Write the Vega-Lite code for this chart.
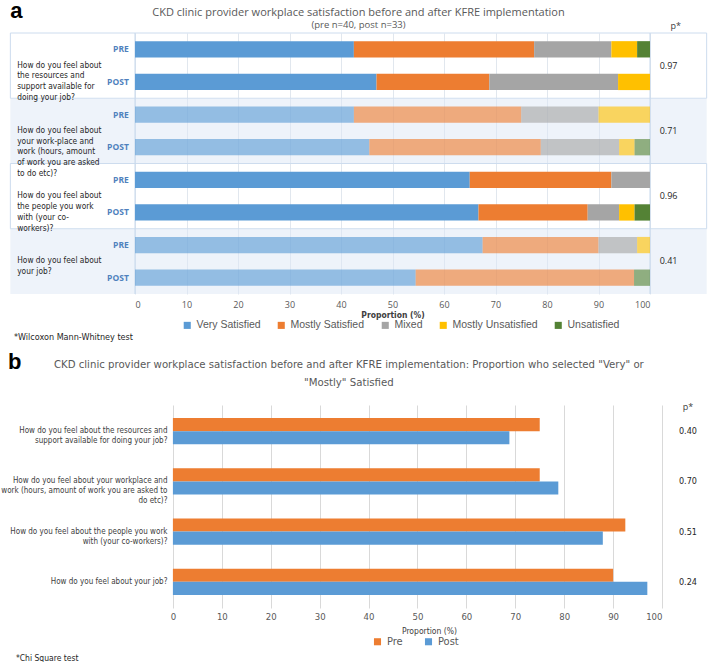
{
  "$schema": "https://vega.github.io/schema/vega-lite/v6.json",
  "padding": {"left": 0, "top": 0, "right": 0, "bottom": 0},
  "background": "white",
  "config": {"view": {"stroke": null}, "font": "Open Sans"},
  "datasets": {
    "satisfaction": [
      {"q": "Q1", "period": "PRE", "cat": "Very Satisfied", "v": 42.5},
      {"q": "Q1", "period": "PRE", "cat": "Mostly Satisfied", "v": 35},
      {"q": "Q1", "period": "PRE", "cat": "Mixed", "v": 15},
      {"q": "Q1", "period": "PRE", "cat": "Mostly Unsatisfied", "v": 5},
      {"q": "Q1", "period": "PRE", "cat": "Unsatisfied", "v": 2.5},
      {"q": "Q1", "period": "POST", "cat": "Very Satisfied", "v": 46.9},
      {"q": "Q1", "period": "POST", "cat": "Mostly Satisfied", "v": 21.9},
      {"q": "Q1", "period": "POST", "cat": "Mixed", "v": 25},
      {"q": "Q1", "period": "POST", "cat": "Mostly Unsatisfied", "v": 6.2},
      {"q": "Q2", "period": "PRE", "cat": "Very Satisfied", "v": 42.5},
      {"q": "Q2", "period": "PRE", "cat": "Mostly Satisfied", "v": 32.5},
      {"q": "Q2", "period": "PRE", "cat": "Mixed", "v": 15},
      {"q": "Q2", "period": "PRE", "cat": "Mostly Unsatisfied", "v": 10},
      {"q": "Q2", "period": "POST", "cat": "Very Satisfied", "v": 45.5},
      {"q": "Q2", "period": "POST", "cat": "Mostly Satisfied", "v": 33.3},
      {"q": "Q2", "period": "POST", "cat": "Mixed", "v": 15.2},
      {"q": "Q2", "period": "POST", "cat": "Mostly Unsatisfied", "v": 3},
      {"q": "Q2", "period": "POST", "cat": "Unsatisfied", "v": 3},
      {"q": "Q3", "period": "PRE", "cat": "Very Satisfied", "v": 65},
      {"q": "Q3", "period": "PRE", "cat": "Mostly Satisfied", "v": 27.5},
      {"q": "Q3", "period": "PRE", "cat": "Mixed", "v": 7.5},
      {"q": "Q3", "period": "POST", "cat": "Very Satisfied", "v": 66.7},
      {"q": "Q3", "period": "POST", "cat": "Mostly Satisfied", "v": 21.2},
      {"q": "Q3", "period": "POST", "cat": "Mixed", "v": 6.1},
      {"q": "Q3", "period": "POST", "cat": "Mostly Unsatisfied", "v": 3},
      {"q": "Q3", "period": "POST", "cat": "Unsatisfied", "v": 3},
      {"q": "Q4", "period": "PRE", "cat": "Very Satisfied", "v": 67.5},
      {"q": "Q4", "period": "PRE", "cat": "Mostly Satisfied", "v": 22.5},
      {"q": "Q4", "period": "PRE", "cat": "Mixed", "v": 7.5},
      {"q": "Q4", "period": "PRE", "cat": "Mostly Unsatisfied", "v": 2.5},
      {"q": "Q4", "period": "POST", "cat": "Very Satisfied", "v": 54.5},
      {"q": "Q4", "period": "POST", "cat": "Mostly Satisfied", "v": 42.4},
      {"q": "Q4", "period": "POST", "cat": "Unsatisfied", "v": 3.1}
    ],
    "questionsA": [
      {"q": "Q1", "text": "How do you feel about\nthe resources and\nsupport available for\ndoing your job?", "p": "0.97"},
      {"q": "Q2", "text": "How do you feel about\nyour work-place and\nwork (hours, amount\nof work you are asked\nto do etc)?", "p": "0.71"},
      {"q": "Q3", "text": "How do you feel about\nthe people you work\nwith (your co-\nworkers)?", "p": "0.96"},
      {"q": "Q4", "text": "How do you feel about\nyour job?", "p": "0.41"}
    ],
    "proportion": [
      {"question": "How do you feel about the resources and\nsupport available for doing your job?", "period": "Pre", "v": 75},
      {"question": "How do you feel about the resources and\nsupport available for doing your job?", "period": "Post", "v": 68.8},
      {"question": "How do you feel about your workplace and\nwork (hours, amount of work you are asked to\ndo etc)?", "period": "Pre", "v": 75},
      {"question": "How do you feel about your workplace and\nwork (hours, amount of work you are asked to\ndo etc)?", "period": "Post", "v": 78.8},
      {"question": "How do you feel about the people you work\nwith (your co-workers)?", "period": "Pre", "v": 92.5},
      {"question": "How do you feel about the people you work\nwith (your co-workers)?", "period": "Post", "v": 87.9},
      {"question": "How do you feel about your job?", "period": "Pre", "v": 90},
      {"question": "How do you feel about your job?", "period": "Post", "v": 97}
    ],
    "questionsB": [
      {"question": "How do you feel about the resources and\nsupport available for doing your job?", "p": "0.40"},
      {"question": "How do you feel about your workplace and\nwork (hours, amount of work you are asked to\ndo etc)?", "p": "0.70"},
      {"question": "How do you feel about the people you work\nwith (your co-workers)?", "p": "0.51"},
      {"question": "How do you feel about your job?", "p": "0.24"}
    ]
  },
  "spacing": 9,
  "resolve": {
    "scale": {"x": "independent", "y": "independent", "color": "independent", "yOffset": "independent"},
    "axis": {"x": "independent", "y": "independent"},
    "legend": {"color": "independent"}
  },
  "vconcat": [
    {
      "width": 515,
      "height": 261,
      "title": {
        "text": "CKD clinic provider workplace satisfaction before and after KFRE implementation",
        "subtitle": "(pre n=40, post n=33)",
        "anchor": "middle",
        "frame": "bounds",
        "font": "Open Sans",
        "fontSize": 11,
        "fontWeight": "normal",
        "color": "#595959",
        "subtitleFont": "Open Sans",
        "subtitleFontSize": 9.5,
        "subtitleColor": "#595959",
        "subtitlePadding": 2,
        "offset": -29
      },
      "resolve": {"scale": {"y": "independent"}, "axis": {"y": "independent"}},
      "layer": [
        {
          "data": {"name": "questionsA"},
          "mark": {"type": "rect", "strokeWidth": 1, "fillOpacity": 0.5},
          "encoding": {
            "x": {"datum": -24.2, "type": "quantitative"},
            "x2": {"datum": 111},
            "y": {
              "field": "text", "type": "nominal", "sort": null,
              "scale": {"type": "band", "paddingInner": 0, "paddingOuter": 0},
              "axis": {
                "title": null, "ticks": false, "domain": false, "grid": false, "zindex": 2,
                "labelExpr": "split(datum.label, '\\n')",
                "labelAlign": "left", "labelPadding": 118.3, "labelLimit": 200,
                "labelFontSize": 8.3, "labelLineHeight": 10.8, "labelColor": "#262626",
                "labelFont": "Liberation Sans Narrow, DejaVu Sans Condensed, Roboto, sans-serif"
              }
            },
            "fill": {"condition": {"test": "datum.q === 'Q2' || datum.q === 'Q4'", "value": "#dde8f5"}, "value": "transparent"},
            "stroke": {"condition": {"test": "datum.q === 'Q1' || datum.q === 'Q3'", "value": "#cddcee"}, "value": "transparent"}
          }
        },
        {
          "data": {"values": [{}]},
          "mark": {"type": "rule", "color": "#c6d8ec", "strokeWidth": 1},
          "encoding": {"x": {"datum": 0, "type": "quantitative"}}
        },
        {
          "data": {"values": [{}]},
          "mark": {"type": "rule", "color": "#c6d8ec", "strokeWidth": 1},
          "encoding": {"x": {"datum": 100, "type": "quantitative"}}
        },
        {
          "data": {"name": "satisfaction"},
          "transform": [
            {"calculate": "datum.q + ' ' + datum.period", "as": "row"},
            {"calculate": "indexof(['Very Satisfied','Mostly Satisfied','Mixed','Mostly Unsatisfied','Unsatisfied'], datum.cat)", "as": "k"}
          ],
          "mark": {"type": "bar"},
          "encoding": {
            "x": {
              "field": "v", "type": "quantitative", "stack": "zero",
              "scale": {"domain": [0, 100], "nice": false},
              "axis": {
                "values": [0, 10, 20, 30, 40, 50, 60, 70, 80, 90, 100],
                "grid": true, "gridColor": "#e1e7ee", "ticks": false, "domain": false,
                "labelColor": "#595959", "labelFontSize": 9, "labelPadding": 6,
                "title": "Proportion (%)", "titleFontSize": 8.5, "titleFontWeight": "bold",
                "titleColor": "#404040", "titlePadding": 1, "titleFont": "Liberation Sans Narrow, DejaVu Sans Condensed, Roboto, sans-serif"
              }
            },
            "y": {
              "field": "row", "type": "nominal", "axis": null,
              "scale": {"type": "band", "domain": ["Q1 PRE", "Q1 POST", "Q2 PRE", "Q2 POST", "Q3 PRE", "Q3 POST", "Q4 PRE", "Q4 POST"], "paddingInner": 0.5, "paddingOuter": 0.25}
            },
            "color": {
              "field": "cat", "type": "nominal",
              "scale": {
                "domain": ["Very Satisfied", "Mostly Satisfied", "Mixed", "Mostly Unsatisfied", "Unsatisfied"],
                "range": ["#5b9bd5", "#ed7d31", "#a5a5a5", "#ffc000", "#548235"]
              },
              "legend": {
                "title": null, "orient": "none", "legendX": 47, "legendY": 287,
                "direction": "horizontal", "symbolType": "square", "symbolSize": 50,
                "labelFont": "Liberation Sans", "labelFontSize": 10.5, "labelColor": "#595959", "columnPadding": 15
              }
            },
            "order": {"field": "k", "type": "quantitative"},
            "opacity": {"condition": {"test": "datum.q === 'Q2' || datum.q === 'Q4'", "value": 0.62}, "value": 1}
          }
        },
        {
          "data": {"name": "satisfaction"},
          "transform": [
            {"filter": "datum.cat === 'Very Satisfied'"},
            {"calculate": "datum.q + ' ' + datum.period", "as": "row"}
          ],
          "mark": {"type": "text", "align": "right", "baseline": "middle", "fontSize": 8.5, "fontWeight": "bold", "color": "#4f81bd"},
          "encoding": {
            "x": {"datum": -1.2, "type": "quantitative"},
            "y": {
              "field": "row", "type": "nominal", "axis": null,
              "scale": {"type": "band", "domain": ["Q1 PRE", "Q1 POST", "Q2 PRE", "Q2 POST", "Q3 PRE", "Q3 POST", "Q4 PRE", "Q4 POST"], "paddingInner": 0.5, "paddingOuter": 0.25}
            },
            "text": {"field": "period"}
          }
        },
        {
          "data": {"name": "questionsA"},
          "mark": {"type": "text", "align": "center", "baseline": "middle", "fontSize": 9, "color": "#262626"},
          "encoding": {
            "x": {"datum": 103.6, "type": "quantitative"},
            "y": {"field": "text", "type": "nominal", "sort": null, "axis": null, "scale": {"type": "band", "paddingInner": 0, "paddingOuter": 0}},
            "text": {"field": "p"}
          }
        },
        {
          "data": {"values": [{}]},
          "mark": {"type": "text", "text": "p*", "align": "center", "baseline": "middle", "fontSize": 9, "color": "#404040", "dy": -23.6},
          "encoding": {
            "x": {"datum": 105, "type": "quantitative"},
            "y": {"datum": "Q1 PRE", "type": "nominal", "axis": null, "scale": {"type": "band", "domain": ["Q1 PRE", "Q1 POST", "Q2 PRE", "Q2 POST", "Q3 PRE", "Q3 POST", "Q4 PRE", "Q4 POST"], "paddingInner": 0.5, "paddingOuter": 0.25}}
          }
        },
        {
          "data": {"values": [{}]},
          "mark": {"type": "text", "text": "a", "align": "left", "baseline": "alphabetic", "fontSize": 22, "fontWeight": "bold", "font": "Liberation Sans", "color": "#000000", "dy": -31},
          "encoding": {
            "x": {"datum": -24.2, "type": "quantitative"},
            "y": {"datum": "Q1 PRE", "type": "nominal", "axis": null, "scale": {"type": "band", "domain": ["Q1 PRE", "Q1 POST", "Q2 PRE", "Q2 POST", "Q3 PRE", "Q3 POST", "Q4 PRE", "Q4 POST"], "paddingInner": 0.5, "paddingOuter": 0.25}}
          }
        },
        {
          "data": {"values": [{}]},
          "mark": {"type": "text", "text": "*Wilcoxon Mann-Whitney test", "align": "left", "baseline": "middle", "fontSize": 9, "color": "#262626", "dy": 59, "font": "Liberation Sans Narrow, DejaVu Sans Condensed, Roboto, sans-serif"},
          "encoding": {
            "x": {"datum": -23.5, "type": "quantitative"},
            "y": {"datum": "Q4 POST", "type": "nominal", "axis": null, "scale": {"type": "band", "domain": ["Q1 PRE", "Q1 POST", "Q2 PRE", "Q2 POST", "Q3 PRE", "Q3 POST", "Q4 PRE", "Q4 POST"], "paddingInner": 0.5, "paddingOuter": 0.25}}
          }
        }
      ]
    },
    {
      "width": 527,
      "height": 203,
      "title": {
        "text": ["CKD clinic provider workplace satisfaction before and after KFRE implementation: Proportion who selected \"Very\" or", "\"Mostly\" Satisfied"],
        "anchor": "middle",
        "frame": "bounds",
        "font": "Liberation Sans Narrow, DejaVu Sans Condensed, Roboto, sans-serif",
        "fontSize": 11.3,
        "fontWeight": "normal",
        "color": "#595959",
        "lineHeight": 18,
        "offset": -37.6
      },
      "layer": [
        {
          "data": {"name": "proportion"},
          "mark": {"type": "bar"},
          "encoding": {
            "x": {
              "field": "v", "type": "quantitative", "stack": null,
              "scale": {"domain": [-7.75, 100], "nice": false, "zero": false},
              "axis": {
                "values": [0, 10, 20, 30, 40, 50, 60, 70, 80, 90, 100],
                "grid": true, "gridColor": "#d9d9d9", "ticks": false, "domain": false,
                "labelColor": "#595959", "labelFontSize": 9.5, "labelPadding": 3,
                "title": "Proportion (%)", "titleFontSize": 8.5, "titleFontWeight": "normal",
                "titleColor": "#404040", "titlePadding": 6, "titleX": 294, "titleFont": "Liberation Sans Narrow, DejaVu Sans Condensed, Roboto, sans-serif",
                "labelFont": "Liberation Sans Narrow, DejaVu Sans Condensed, Roboto, sans-serif"
              }
            },
            "x2": {"datum": 0},
            "y": {
              "field": "question", "type": "nominal", "sort": null,
              "scale": {"paddingInner": 0.48, "paddingOuter": 0.26},
              "axis": {
                "title": null, "ticks": false, "domain": false, "offset": -38,
                "labelExpr": "split(datum.label, '\\n')",
                "labelAlign": "right", "labelPadding": 6, "labelFontSize": 8,
                "labelColor": "#404040", "labelLimit": 300, "labelLineHeight": 10,
                "labelFont": "Liberation Sans Narrow, DejaVu Sans Condensed, Roboto, sans-serif"
              }
            },
            "yOffset": {"field": "period", "type": "nominal", "scale": {"domain": ["Pre", "Post"], "paddingInner": 0, "paddingOuter": 0}},
            "color": {
              "field": "period", "type": "nominal",
              "scale": {"domain": ["Pre", "Post"], "range": ["#ed7d31", "#5b9bd5"]},
              "legend": {
                "title": null, "orient": "none", "legendX": 237, "legendY": 231,
                "direction": "horizontal", "symbolType": "square", "symbolSize": 50,
                "labelFontSize": 11, "labelColor": "#595959", "columnPadding": 20,
                "labelFont": "Liberation Sans Narrow, DejaVu Sans Condensed, Roboto, sans-serif"
              }
            }
          }
        },
        {
          "data": {"name": "questionsB"},
          "mark": {"type": "text", "align": "center", "baseline": "middle", "fontSize": 9, "color": "#262626", "font": "Liberation Sans Narrow, DejaVu Sans Condensed, Roboto, sans-serif"},
          "encoding": {
            "x": {"datum": 105.3, "type": "quantitative"},
            "y": {"field": "question", "type": "nominal", "sort": null},
            "text": {"field": "p"}
          }
        },
        {
          "data": {"values": [{}]},
          "mark": {"type": "text", "text": "p*", "align": "center", "baseline": "middle", "fontSize": 9, "color": "#404040", "dy": -24},
          "encoding": {"x": {"datum": 105.3, "type": "quantitative"}, "y": {"datum": "How do you feel about the resources and\nsupport available for doing your job?", "type": "nominal"}}
        },
        {
          "data": {"values": [{}]},
          "mark": {"type": "text", "text": "b", "align": "left", "baseline": "alphabetic", "fontSize": 22, "fontWeight": "bold", "font": "Liberation Sans", "color": "#000000", "dy": -62.1},
          "encoding": {"x": {"datum": -33.7, "type": "quantitative"}, "y": {"datum": "How do you feel about the resources and\nsupport available for doing your job?", "type": "nominal"}}
        },
        {
          "data": {"values": [{}]},
          "mark": {"type": "text", "text": "*Chi Square test", "align": "left", "baseline": "middle", "fontSize": 8.5, "color": "#262626", "dy": 76, "font": "Liberation Sans Narrow, DejaVu Sans Condensed, Roboto, sans-serif"},
          "encoding": {"x": {"datum": -32.1, "type": "quantitative"}, "y": {"datum": "How do you feel about your job?", "type": "nominal"}}
        }
      ]
    }
  ]
}
